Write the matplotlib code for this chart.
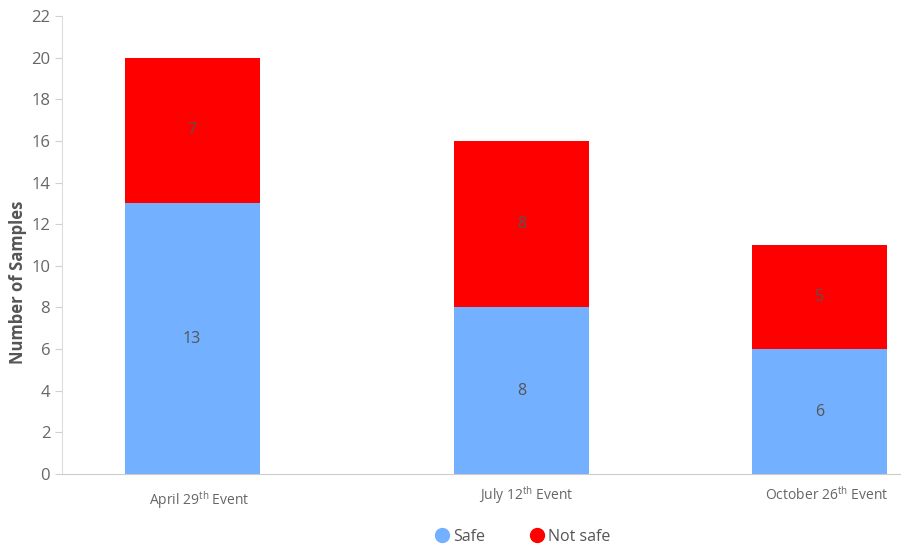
import matplotlib.pyplot as plt
from matplotlib.lines import Line2D

plt.rcParams["font.family"] = ["Open Sans", "DejaVu Sans"]
plt.rcParams["mathtext.fontset"] = "custom"
plt.rcParams["mathtext.rm"] = "Open Sans"
plt.rcParams["mathtext.it"] = "Open Sans"

events = ["April 29$^{\\mathrm{th}}$ Event", "July 12$^{\\mathrm{th}}$ Event",
          "October 26$^{\\mathrm{th}}$ Event"]
safe = [13, 8, 6]
not_safe = [7, 8, 5]

# bar centres / label offsets in pixels (layout only)
pos = [192, 521.5, 819.5]
label_pos = [199, 526, 827]
label_drop = [26, 21, 21]

blue = "#73b0ff"
red = "#ff0000"

fig = plt.figure(figsize=(9.01, 5.48), dpi=100)
ax = fig.add_axes([62 / 901, 1 - 474 / 548, 838 / 901, 458 / 548])

ax.bar(pos, safe, width=135, color=blue)
ax.bar(pos, not_safe, width=135, bottom=safe, color=red)

for x, s, n in zip(pos, safe, not_safe):
    ax.text(x, s / 2, str(s), ha="center", va="center", fontsize=11.5, color="#555555")
    ax.text(x, s + n / 2, str(n), ha="center", va="center", fontsize=11.5, color="#555555")

ax.set_xlim(62, 900)
ax.set_ylim(0, 22)
ax.set_yticks(range(0, 23, 2))
ax.tick_params(axis="y", labelsize=12, colors="#d0d0d0", labelcolor="#666666", length=5, width=0.8)
ax.set_xticks([])
for x, lab, d in zip(label_pos, events, label_drop):
    ax.text(x, -d / 20.8, lab, ha="center", va="center", fontsize=10, color="#666666")

for s in ["top", "right"]:
    ax.spines[s].set_visible(False)
ax.spines["left"].set_color("#dddddd")
ax.spines["bottom"].set_color("#cccccc")

fig.text(18 / 901, 1 - 282 / 548, "Number of Samples", rotation=90, ha="center", va="center",
         fontsize=12, fontweight="bold", color="#555555")

handles = [Line2D([], [], marker="o", ls="", color=blue, markersize=10),
           Line2D([], [], marker="o", ls="", color=red, markersize=10)]
fig.legend(handles, ["Safe", "Not safe"], loc="center", bbox_to_anchor=(523 / 901, 1 - 537 / 548),
           ncol=2, frameon=False, fontsize=11.5, handlelength=0.8, handletextpad=0.3,
           columnspacing=2.8, labelcolor="#555555")

fig.savefig("out.png")
